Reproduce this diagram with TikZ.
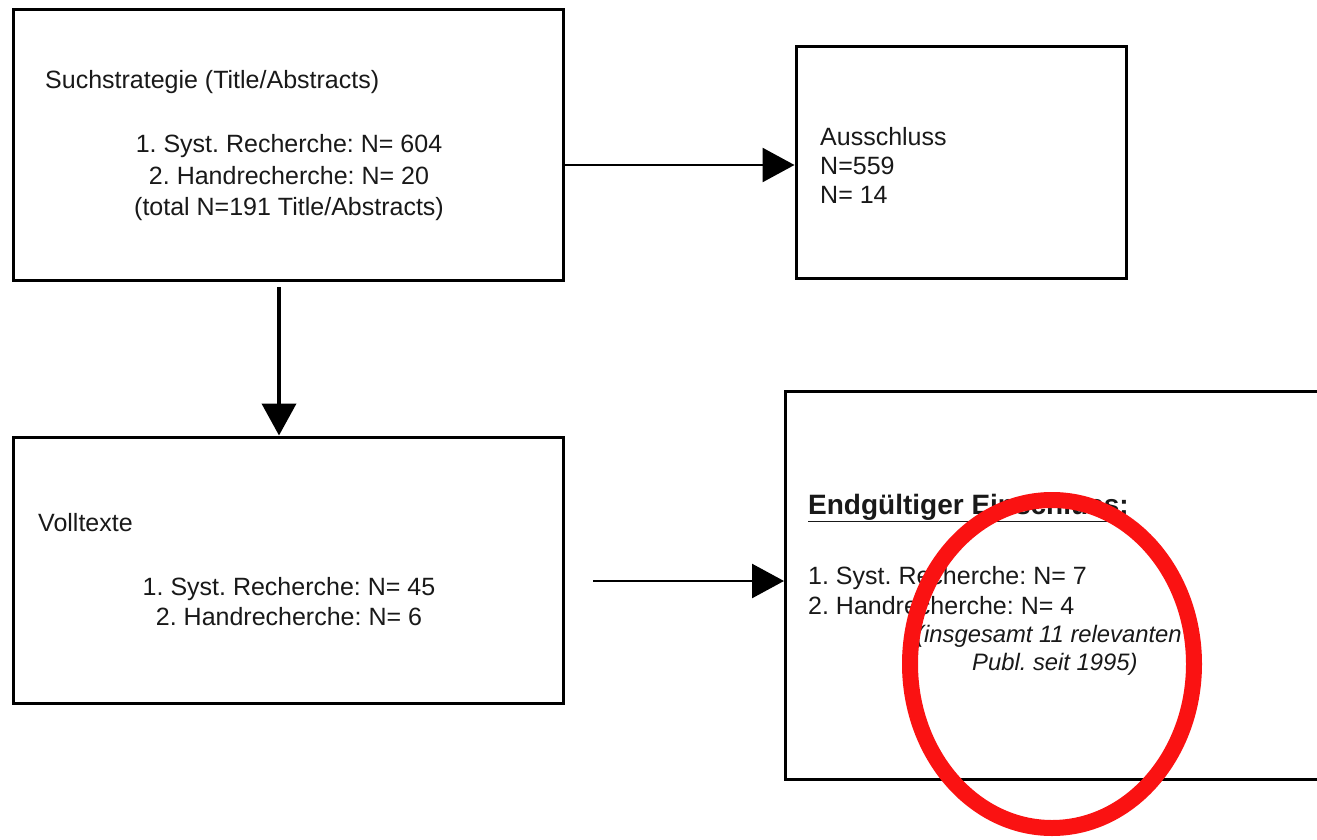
\documentclass[tikz,border=0pt]{standalone}
\usepackage{fontspec}
\setmainfont{Liberation Sans}
\usetikzlibrary{arrows.meta,shapes.geometric}
\definecolor{markred}{RGB}{250,18,18}
\tikzset{
  box/.style={draw=black, line width=3pt, rectangle, inner sep=0pt},
  txt/.style={inner sep=0pt, font=\fontsize{25}{30}\selectfont, text=black!90},
  arr/.style={-{Triangle[length=32pt,width=34pt]}, line width=2.6pt},
  arrthick/.style={-{Triangle[length=32pt,width=34pt]}, line width=4pt},
  redmark/.style={draw=markred, line width=16pt}
}
\begin{document}
\frenchspacing
\begin{tikzpicture}[x=1pt,y=-1pt]
\clip (0,0) rectangle (1317,840);
\fill[white] (0,0) rectangle (1317,840);
% boxes
\node[box, minimum width=550pt, minimum height=270pt] (b1) at (288,145) {};
\node[box, minimum width=330pt, minimum height=231pt] (b2) at (961,162.5) {};
\node[box, minimum width=550pt, minimum height=266pt] (b3) at (288,570) {};
\node[box, minimum width=560pt, minimum height=388pt, anchor=north west] (b4) at (784,390) {};
% texts box 1
\node[txt, anchor=west] (t1a) at (45,82) {Suchstrategie (Title/Abstracts)};
\node[txt, align=center, font=\fontsize{25}{31.5}\selectfont] (t1b) at (289,178) {1. Syst. Recherche: N= 604\\2. Handrecherche: N= 20\\(total N=191 Title/Abstracts)};
% texts box 2
\node[txt, anchor=west, align=left, font=\fontsize{25}{29}\selectfont] (t2) at (820,165) {Ausschluss\\N=559\\N= 14};
% texts box 3
\node[txt, anchor=west] (t3a) at (38,523) {Volltexte};
\node[txt, align=center] (t3b) at (289,602) {1. Syst. Recherche: N= 45\\2. Handrecherche: N= 6};
% texts box 4
\node[txt, anchor=west, font=\fontsize{28}{30}\bfseries] (t4a) at (808,508) {\underline{Endgültiger Einschluss:}};
\node[txt, anchor=west, align=left] (t4b) at (808,591) {1. Syst. Recherche: N= 7\\2. Handrecherche: N= 4};
\node[txt, anchor=west, align=left, font=\fontsize{23.8}{28}\itshape] (t4c) at (916,650) {(insgesamt 11 relevanten\\\hspace*{56pt}Publ. seit 1995)};
% connectors
\coordinate (s1) at (565,165);
\coordinate (s2) at (279,287);
\coordinate (s3) at (593,581);
\draw[arr] (s1) -- (b2.west |- s1);
\draw[arrthick] (s2) -- (s2 |- b3.north);
\draw[arr] (s3) -- (b4.west |- s3);
% red marker
\node[redmark, ellipse, minimum width=284pt, minimum height=328pt, inner sep=0pt] (m) at (1052,664) {};
\end{tikzpicture}
\end{document}
